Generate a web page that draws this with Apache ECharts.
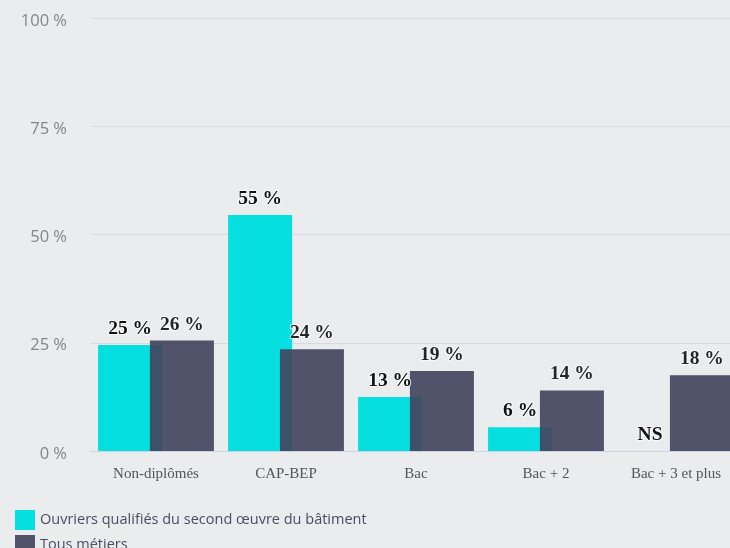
<!DOCTYPE html>
<html>
<head>
<meta charset="utf-8">
<script src="https://cdn.jsdelivr.net/npm/echarts@6/dist/echarts.min.js"></script>
<style>
  html, body { margin: 0; padding: 0; background: #ebecee; }
  #chart { width: 730px; height: 548px; }
</style>
</head>
<body>
<div id="chart"></div>
<script>
// diplomes
const categories = ["Non-diplômés", "CAP-BEP", "Bac", "Bac + 2", "Bac + 3 et plus"];
// null = NS (non significatif)
const ouvriers = [24.5, 54.5, 12.5, 5.5, null];
const tousMetiers = [25.5, 23.5, 18.5, 14, 17.5];
const yTicks = [0, 25, 50, 75, 100];
const seriesNames = ["Ouvriers qualifiés du second œuvre du bâtiment", "Tous métiers"];

const chart = echarts.init(document.getElementById("chart"));

const labelStyle = {
  show: true,
  position: "top",
  distance: 6,
  fontFamily: "Liberation Serif",
  fontWeight: "bold",
  fontSize: 19.5,
  color: "#111",
  textBorderColor: "rgba(255,255,255,0.8)",
  textBorderWidth: 2,
  formatter: p => Math.round(p.value) + " %"
};

// une legende par ligne (sinon la legende verticale passe en colonnes)
const legendBase = {
  left: 10,
  icon: "rect",
  itemWidth: 20,
  itemHeight: 20,
  textStyle: { fontFamily: "Open Sans", fontSize: 14.5, color: "#4a4d63" }
};

const options = {
  backgroundColor: "#ebecee",
  animation: false,
  legend: [
    Object.assign({ top: 505, data: [seriesNames[0]] }, legendBase),
    Object.assign({ top: 530, data: [seriesNames[1]] }, legendBase)
  ],
  // la zone de trace deborde a droite (coupee dans l'original)
  grid: { left: 91, width: 650, top: 18, bottom: 97, outerBoundsMode: "none", containLabel: false },
  xAxis: {
    type: "category",
    data: categories,
    axisTick: { show: false },
    axisLine: { lineStyle: { color: "#ccd3e6" } },
    axisLabel: {
      margin: 16,
      fontFamily: "Liberation Serif",
      fontSize: 15,
      color: "#555"
    }
  },
  yAxis: {
    type: "value",
    min: yTicks[0],
    max: yTicks[yTicks.length - 1],
    interval: 25,
    axisLabel: {
      margin: 24,
      fontFamily: "Open Sans",
      fontSize: 16.5,
      color: "#858585",
      verticalAlign: "top",
      lineHeight: 6,
      formatter: "{value} %"
    },
    splitLine: { lineStyle: { color: "#d6dbe2", width: 1 } }
  },
  series: [
    {
      name: seriesNames[0],
      type: "bar",
      barWidth: 64,
      barGap: "-19%",
      itemStyle: { color: "#05dfe0" },
      label: labelStyle,
      data: ouvriers.map(v =>
        v == null
          ? { value: 0, label: { formatter: "NS" } }
          : v
      )
    },
    {
      name: seriesNames[1],
      type: "bar",
      barWidth: 64,
      itemStyle: { color: "#42455e", opacity: 0.92 },
      label: labelStyle,
      data: tousMetiers
    }
  ]
};

chart.setOption(options);
</script>
</body>
</html>
